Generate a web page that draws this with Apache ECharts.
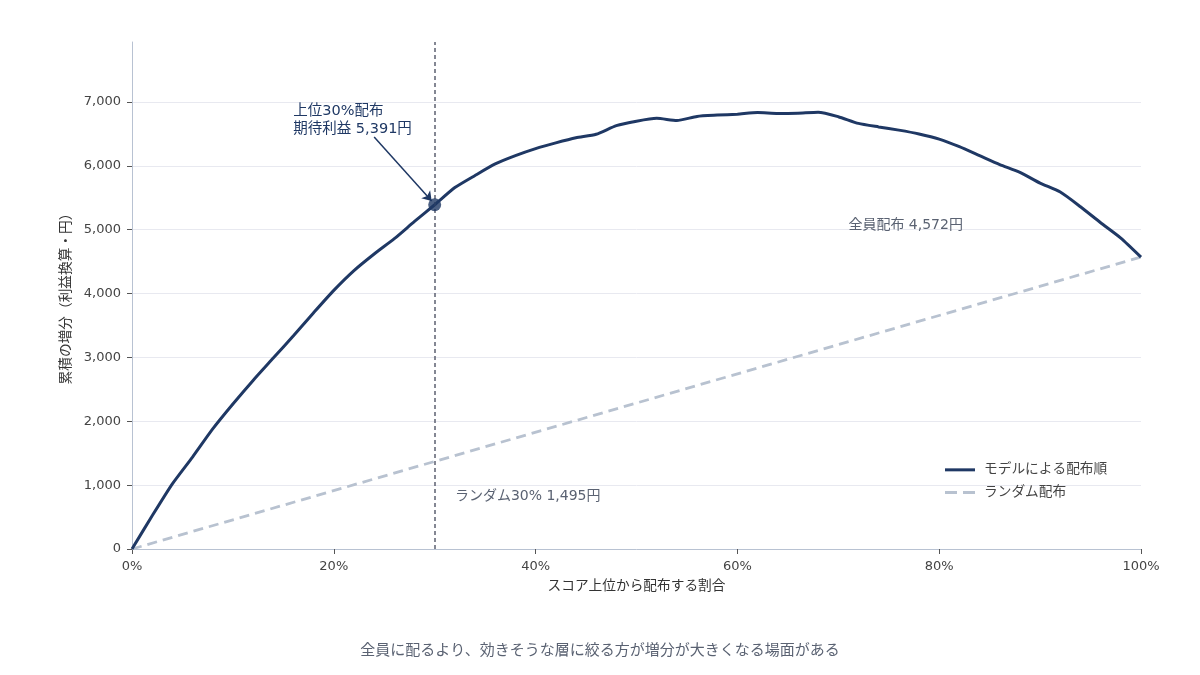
<!DOCTYPE html>
<html><head><meta charset="utf-8">
<script src="https://cdn.jsdelivr.net/npm/echarts@6/dist/echarts.min.js"></script>
<style>html,body{margin:0;padding:0;background:#fff}#c{width:1200px;height:675px}</style>
</head><body><div id="c"></div>
<script>
// x positions (% of customers, score order)
const xPct = [0,2,4,6,8,10,12,14,16,18,20,22,24,26,28,30,32,34,36,38,40,42,44,46,48,50,52,54,56,58,60,62,64,66,68,70,72,74,76,78,80,82,84,86,88,90,92,94,96,98,100];
// cumulative uplift (profit, yen) by model order
const modelVals = [0,520,1020,1440,1880,2270,2640,2990,3340,3700,4050,4360,4620,4860,5130,5391,5660,5850,6030,6160,6270,6360,6440,6495,6630,6700,6745,6710,6775,6795,6810,6835,6820,6825,6840,6770,6665,6610,6560,6500,6420,6300,6160,6020,5900,5730,5590,5360,5110,4870,4572];
// random order (straight line)
const randomX = [0,100];
const randomVals = [0,4572];
const highlight = [30,5391];
const texts = {
  top: '上位30%配布\n期待利益 5,391円',
  all: '全員配布 4,572円',
  rand: 'ランダム30% 1,495円',
  xName: 'スコア上位から配布する割合',
  yName: '累積の増分（利益換算・円）',
  caption: '全員に配るより、効きそうな層に絞る方が増分が大きくなる場面がある',
  s1: 'モデルによる配布順',
  s2: 'ランダム配布'
};
const FONT = "'DejaVu Sans', 'Noto Sans CJK JP', sans-serif";
const navy = '#1f3864';
const randCol = '#b8c2d0';
const chart = echarts.init(document.getElementById('c'));
chart.setOption({
  animation:false,
  textStyle:{fontFamily:FONT},
  grid:{left:132,right:59,top:42,bottom:126},
  title:{text:texts.caption,left:'center',top:639,textStyle:{fontFamily:FONT,fontSize:15,fontWeight:'normal',color:'#5a6272'}},
  legend:{orient:'vertical',left:940,top:458,itemWidth:30,itemHeight:3,itemGap:9,
    textStyle:{fontFamily:FONT,fontSize:13.7,color:'#444',padding:[0,0,0,4]},
    data:[
      {name:texts.s1,icon:'path://M0,0h30v3h-30z'},
      {name:texts.s2,icon:'path://M0,0h12v3h-12z M18,0h12v3h-12z'}
    ]},
  xAxis:{type:'value',min:0,max:100,interval:20,
    name:texts.xName,nameLocation:'middle',nameGap:31,nameTextStyle:{fontFamily:FONT,fontSize:13.7,color:'#333'},
    axisLine:{lineStyle:{color:'#b8c2d2'}},axisTick:{show:true,length:5,lineStyle:{color:'#555'}},
    axisLabel:{formatter:'{value}%',color:'#444',fontSize:13,fontFamily:FONT,margin:11},
    splitLine:{show:false}},
  yAxis:{type:'value',min:0,max:7940,interval:1000,
    name:texts.yName,nameLocation:'middle',nameGap:58,nameTextStyle:{fontFamily:FONT,fontSize:13.7,color:'#333'},
    axisLine:{show:true,lineStyle:{color:'#b8c2d2'}},axisTick:{show:true,length:5,lineStyle:{color:'#555'}},
    axisLabel:{showMaxLabel:false,color:'#444',fontSize:13,fontFamily:FONT,margin:11,
      formatter:v=>v.toLocaleString('en-US')},
    splitLine:{show:true,showMaxLine:false,lineStyle:{color:'#e8e9f0'}}},
  series:[
    {name:texts.s2,type:'line',data:randomX.map((x,i)=>[x,randomVals[i]]),symbol:'none',
      lineStyle:{color:randCol,width:2.8,type:[10,6]},itemStyle:{color:randCol},z:2,
      markPoint:{symbol:'circle',symbolSize:0,silent:true,data:[
        {coord:[32,830],label:{show:true,formatter:texts.rand,position:'right',distance:0,color:'#5a6272',fontSize:14,fontFamily:FONT}},
        {coord:[71,5074],label:{show:true,formatter:texts.all,position:'right',distance:0,color:'#5a6272',fontSize:14,fontFamily:FONT}}
      ]}},
    {name:texts.s1,type:'line',data:xPct.map((x,i)=>[x,modelVals[i]]),symbol:'none',smooth:0.2,
      lineStyle:{color:navy,width:3},itemStyle:{color:navy},z:4,
      markLine:{silent:true,symbol:'none',animation:false,
        data:[
          {xAxis:30,lineStyle:{color:'#5c6070',type:[4,3],width:1.5},label:{show:false}},
          [{coord:[24,6452],symbol:'none',lineStyle:{color:navy,width:1.5,type:'solid'}},{coord:[29.7,5450],symbol:'arrow',symbolSize:9}]
        ],label:{show:false}},
      markPoint:{symbol:'circle',symbolSize:0,silent:true,data:[
        {coord:[15.98,6720],label:{show:true,formatter:texts.top,position:'right',distance:0,color:navy,fontSize:14.5,lineHeight:18,align:'left',fontFamily:FONT}}
      ]}},
    {name:'pt',type:'scatter',data:[highlight],symbolSize:13,itemStyle:{color:navy},z:5}
  ]
});
</script></body></html>
